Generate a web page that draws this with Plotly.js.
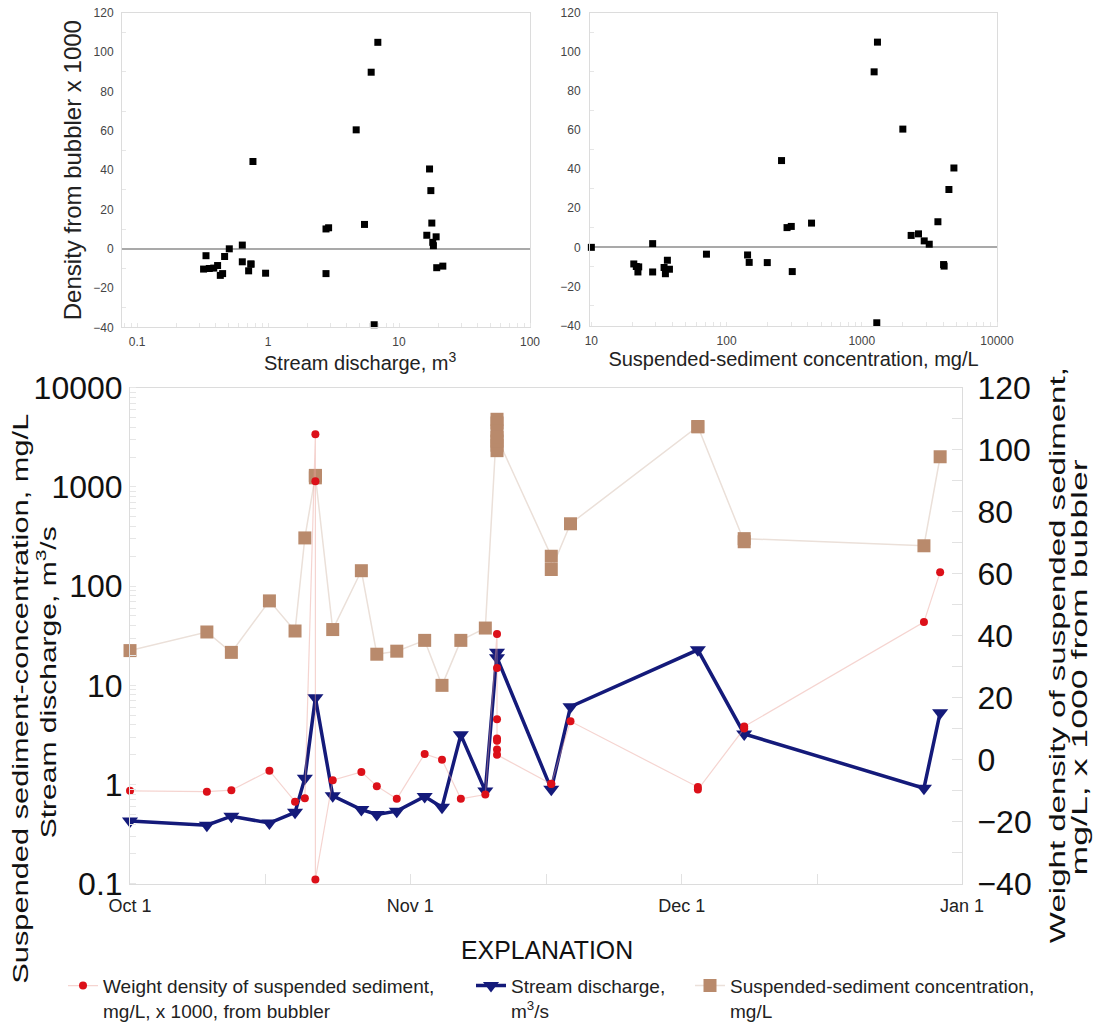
<!DOCTYPE html>
<html>
<head>
<meta charset="utf-8">
<script src="https://cdn.plot.ly/plotly-3.0.1.min.js"></script>
<style>
html,body{margin:0;padding:0;background:#fff;}
#chart{width:1093px;height:1030px;}
</style>
</head>
<body>
<div id="chart"></div>
<script>
// ---------- data ----------
// Sediment samples (one entry per sample)
const sampleDates = [
  '2009-10-01 00:00','2009-10-09 12:00','2009-10-12 05:00','2009-10-16 10:00','2009-10-19 06:00',
  '2009-10-20 08:00','2009-10-21 12:00','2009-10-21 12:00','2009-10-21 12:00','2009-10-23 10:00',
  '2009-10-26 14:00','2009-10-28 07:00','2009-10-30 12:00','2009-11-02 14:00','2009-11-04 12:00',
  '2009-11-06 14:00','2009-11-09 07:00','2009-11-10 14:00','2009-11-10 14:00','2009-11-10 14:00',
  '2009-11-10 14:00','2009-11-10 14:00','2009-11-10 14:00','2009-11-10 14:00','2009-11-16 14:00',
  '2009-11-16 14:00','2009-11-18 17:00','2009-12-02 19:00','2009-12-02 19:00','2009-12-07 22:00',
  '2009-12-07 22:00','2009-12-27 19:00','2009-12-29 14:00'
];
// Suspended-sediment concentration, mg/L
const sampleSSC = [
  22.4, 34.5, 21.5, 71, 35.3,
  306, 1306, 1234, 1291, 36.5,
  143, 20.6, 22.1, 28.4, 10,
  28.4, 37.8, 4801, 4409, 3656,
  2628, 2318, 2895, 3154, 200,
  147, 425, 4027, 4063, 280,
  301, 255, 2012
];
// Weight density from bubbler x 1000
const sampleDensity = [
  -10.0, -10.3, -9.8, -3.5, -13.5,
  -12.4, 105, 89.8, -38.6, -6.6,
  -3.9, -8.5, -12.6, 1.9, 0,
  -12.6, -11.2, 40.6, 29.6, 13.1,
  6.9, 6.1, 3.3, 1.6, -7.8,
  -7.7, 12.4, -8.8, -9.6, 10.1,
  10.7, 44.4, 60.5
];
// Stream discharge at time of sampling (upper-left panel)
const sampleQ = [
  0.356, 0.322, 0.385, 0.336, 0.432,
  0.958, 6.89, 6.13, 6.46, 0.636,
  0.466, 0.412, 0.45, 0.636, 0.506,
  2.77, 0.711, 17.1, 17.5, 17.8,
  16.3, 19.2, 18.1, 18.3, 0.741,
  0.74, 5.45, 21.6, 19.4, 2.77,
  2.9, 0.767, 4.71
];
// Stream discharge series, m3/s
const flowDates = [
  '2009-10-01 00:00','2009-10-09 12:00','2009-10-12 05:00','2009-10-16 10:00','2009-10-19 06:00',
  '2009-10-20 08:00','2009-10-21 12:00','2009-10-23 10:00','2009-10-26 14:00','2009-10-28 07:00',
  '2009-10-30 12:00','2009-11-02 14:00','2009-11-04 12:00','2009-11-06 14:00','2009-11-09 07:00',
  '2009-11-10 14:00','2009-11-10 14:00','2009-11-16 14:00','2009-11-18 17:00','2009-12-02 19:00',
  '2009-12-07 22:00','2009-12-27 19:00','2009-12-29 14:00'
];
const flowQ = [
  0.43, 0.39, 0.48, 0.41, 0.525,
  1.16, 7.5, 0.77, 0.56, 0.50,
  0.54, 0.76, 0.59, 3.17, 0.86,
  21.5, 19, 0.9, 6.1, 22.8,
  3.24, 0.92, 5.3
];
// Tick labels
const qTickVals = [0.1, 1, 10, 100];
const qTickText = ['0.1', '1', '10', '100'];
const sscTickVals = [10, 100, 1000, 10000];
const sscTickText = ['10', '100', '1000', '10000'];
const logTickVals = [0.1, 1, 10, 100, 1000, 10000];
const logTickText = ['0.1', '1', '10', '100', '1000', '10000'];
const dateTickVals = ['2009-10-01', '2009-11-01', '2009-12-01', '2010-01-01'];
const dateTickText = ['Oct 1', 'Nov 1', 'Dec 1', 'Jan 1'];

// ---------- styling ----------
const FONT = 'Arial, "Liberation Sans", Helvetica, sans-serif';
const W = 1093, H = 1030;
const px = v => v / W;
const py = v => 1 - v / H;
const frame = '#dcdcdc';
const RED = '#dc1019', NAVY = '#141a7a', TAN = '#b98a6c';

const data = [
  { // upper left
    x: sampleQ, y: sampleDensity, xaxis: 'x', yaxis: 'y',
    type: 'scatter', mode: 'markers', showlegend: false, cliponaxis: false,
    marker: { symbol: 'square', size: 7, color: '#000' }
  },
  { // upper right
    x: sampleSSC, y: sampleDensity, xaxis: 'x2', yaxis: 'y2',
    type: 'scatter', mode: 'markers', showlegend: false, cliponaxis: false,
    marker: { symbol: 'square', size: 7, color: '#000' }
  },
  { // density (right axis)
    name: 'Weight density of suspended sediment,<br>mg/L, x 1000, from bubbler',
    x: sampleDates, y: sampleDensity, xaxis: 'x3', yaxis: 'y4',
    type: 'scatter', mode: 'lines+markers', legend: 'legend', cliponaxis: false,
    line: { color: 'rgba(232,160,150,0.45)', width: 1.2 },
    marker: { symbol: 'circle', size: 8, color: RED }
  },
  { // SSC
    name: 'Suspended-sediment concentration,<br>mg/L',
    x: sampleDates, y: sampleSSC, xaxis: 'x3', yaxis: 'y3',
    type: 'scatter', mode: 'lines+markers', legend: 'legend3', cliponaxis: false,
    line: { color: '#ebe0d9', width: 1.5 },
    marker: { symbol: 'square', size: 13, color: TAN }
  },
  { // discharge
    name: 'Stream discharge,<br>m<sup>3</sup>/s',
    x: flowDates, y: flowQ, xaxis: 'x3', yaxis: 'y3',
    type: 'scatter', mode: 'lines+markers', legend: 'legend2', cliponaxis: false,
    line: { color: NAVY, width: 3.5 },
    marker: { symbol: 'triangle-down', size: 14, color: NAVY }
  }
];

const smallTick = { family: FONT, size: 12, color: '#444' };
const bigTick = { family: FONT, size: 32, color: '#111' };

const layout = {
  width: W, height: H,
  margin: { l: 0, r: 0, t: 0, b: 0 },
  paper_bgcolor: '#fff', plot_bgcolor: '#fff',
  font: { family: FONT, color: '#111' },
  showlegend: true,
  xaxis: {
    type: 'log', domain: [px(122), px(530)], range: [-1.115, 2], anchor: 'y',
    tickmode: 'array', tickvals: qTickVals, ticktext: qTickText,
    tickfont: smallTick, ticks: '', ticklabelstandoff: 3,
    showline: true, mirror: true, linecolor: frame, linewidth: 1,
    showgrid: false, zeroline: false, automargin: false,
    minor: { dtick: 'D1', ticks: 'inside', ticklen: 4, tickcolor: '#e6e6e6', showgrid: false }
  },
  yaxis: {
    domain: [py(332), py(13)], range: [-40, 120], anchor: 'x',
    tickmode: 'linear', tick0: -40, dtick: 20,
    tickfont: smallTick, ticks: '', ticklabelstandoff: 5,
    showline: true, mirror: true, linecolor: frame, linewidth: 1,
    showgrid: false, zeroline: true, zerolinecolor: '#a9a9a9', zerolinewidth: 2, automargin: false,
    minor: { dtick: 10, ticks: 'inside', ticklen: 4, tickcolor: '#e6e6e6', showgrid: false },
    title: { text: 'Density from bubbler x 1000', font: { family: FONT, size: 24, color: '#222' }, standoff: 4 }
  },
  xaxis2: {
    type: 'log', domain: [px(590), px(997)], range: [0.99, 4], anchor: 'y2',
    tickmode: 'array', tickvals: sscTickVals, ticktext: sscTickText,
    tickfont: smallTick, ticks: '', ticklabelstandoff: 4,
    showline: true, mirror: true, linecolor: frame, linewidth: 1,
    showgrid: false, zeroline: false, automargin: false,
    minor: { dtick: 'D1', ticks: 'inside', ticklen: 4, tickcolor: '#e6e6e6', showgrid: false },
    title: { text: 'Suspended-sediment concentration, mg/L', font: { family: FONT, size: 20, color: '#222' }, standoff: 2 }
  },
  yaxis2: {
    domain: [py(330), py(13)], range: [-40, 120], anchor: 'x2',
    tickmode: 'linear', tick0: -40, dtick: 20,
    tickfont: smallTick, ticks: '', ticklabelstandoff: 6,
    showline: true, mirror: true, linecolor: frame, linewidth: 1,
    showgrid: false, zeroline: true, zerolinecolor: '#a9a9a9', zerolinewidth: 2, automargin: false,
    minor: { dtick: 10, ticks: 'inside', ticklen: 4, tickcolor: '#e6e6e6', showgrid: false }
  },
  xaxis3: {
    type: 'date', domain: [px(130), px(962)], range: ['2009-10-01', '2010-01-01'], anchor: 'y3',
    tickmode: 'array', tickvals: dateTickVals, ticktext: dateTickText,
    tickfont: { family: FONT, size: 18, color: '#222' },
    ticks: 'inside', ticklen: 10, tickcolor: '#e2e2e2', ticklabelstandoff: 6,
    showline: true, mirror: true, linecolor: frame, linewidth: 1,
    showgrid: false, zeroline: false, automargin: false,
    minor: { tick0: '2009-10-16', dtick: 'M1', ticks: 'inside', ticklen: 10, tickcolor: '#e2e2e2', showgrid: false }
  },
  yaxis3: {
    type: 'log', domain: [py(896), py(393)], range: [-1, 4], anchor: 'x3',
    tickmode: 'array', tickvals: logTickVals, ticktext: logTickText,
    tickfont: bigTick, ticks: '', ticklabelstandoff: 0,
    showline: true, linecolor: frame, linewidth: 1,
    showgrid: false, zeroline: false, automargin: false,
    minor: { dtick: 'D1', ticks: 'inside', ticklen: 6, tickcolor: '#e6e6e6', showgrid: false }
  },
  yaxis4: {
    overlaying: 'y3', side: 'right', anchor: 'x3',
    range: [-40, 120], tickmode: 'linear', tick0: -40, dtick: 20,
    tickfont: bigTick, ticks: 'inside', ticklen: 10, tickcolor: '#e2e2e2', ticklabelstandoff: 8,
    showline: true, linecolor: frame, linewidth: 1,
    showgrid: false, zeroline: false, automargin: false,
    minor: { dtick: 10, ticks: 'inside', ticklen: 10, tickcolor: '#e2e2e2', showgrid: false }
  },
  legend: {
    x: px(63), y: py(980), xanchor: 'left', yanchor: 'top', valign: 'top',
    bgcolor: 'rgba(0,0,0,0)', borderwidth: 0,
    font: { family: FONT, size: 19, color: '#222' }
  },
  legend2: {
    x: px(471), y: py(980), xanchor: 'left', yanchor: 'top', valign: 'top',
    bgcolor: 'rgba(0,0,0,0)', borderwidth: 0,
    font: { family: FONT, size: 19, color: '#222' }
  },
  legend3: {
    x: px(690), y: py(980), xanchor: 'left', yanchor: 'top', valign: 'top',
    bgcolor: 'rgba(0,0,0,0)', borderwidth: 0,
    font: { family: FONT, size: 19, color: '#222' }
  },
  annotations: [
    { text: 'EXPLANATION', xref: 'paper', yref: 'paper', x: px(547), y: py(963),
      xanchor: 'center', yanchor: 'middle', showarrow: false,
      font: { family: FONT, size: 26, color: '#111' } },
    { text: 'Suspended sediment-concentration, mg/L', xref: 'paper', yref: 'paper',
      x: px(20), y: py(709), xanchor: 'center', yanchor: 'middle', showarrow: false, textangle: -90,
      font: { family: FONT, size: 22, color: '#111' } },
    { text: 'Stream discharge, m<sup>3</sup>/s', xref: 'paper', yref: 'paper',
      x: px(46), y: py(692), xanchor: 'center', yanchor: 'middle', showarrow: false, textangle: -90,
      font: { family: FONT, size: 22, color: '#111' } },
    { text: 'Weight density of suspended sediment,', xref: 'paper', yref: 'paper',
      x: px(1058), y: py(664), xanchor: 'center', yanchor: 'middle', showarrow: false, textangle: -90,
      font: { family: FONT, size: 22, color: '#111' } },
    { text: 'mg/L, x 1000 from bubbler', xref: 'paper', yref: 'paper',
      x: px(1080), y: py(677), xanchor: 'center', yanchor: 'middle', showarrow: false, textangle: -90,
      font: { family: FONT, size: 22, color: '#111' } },
    { text: 'Stream discharge, m<sup>3</sup>', xref: 'paper', yref: 'paper',
      x: px(360), y: py(366), xanchor: 'center', yanchor: 'middle', showarrow: false,
      font: { family: FONT, size: 20, color: '#222' } }
  ]
};

// lengths (px) of the stretched titles in the reference lettering
const titleLengths = { 0: 172, 1: 570, 2: 312, 3: 576, 4: 416 };

Plotly.newPlot('chart', data, layout, { displayModeBar: false, staticPlot: true }).then(function (gd) {
  gd.querySelectorAll('.annotation').forEach(function (g) {
    const idx = g.getAttribute('data-index');
    if (titleLengths[idx] !== undefined) {
      const t = g.querySelector('text.annotation-text');
      if (t) {
        t.setAttribute('textLength', titleLengths[idx]);
        t.setAttribute('lengthAdjust', 'spacingAndGlyphs');
      }
    }
  });
});
</script>
</body>
</html>
